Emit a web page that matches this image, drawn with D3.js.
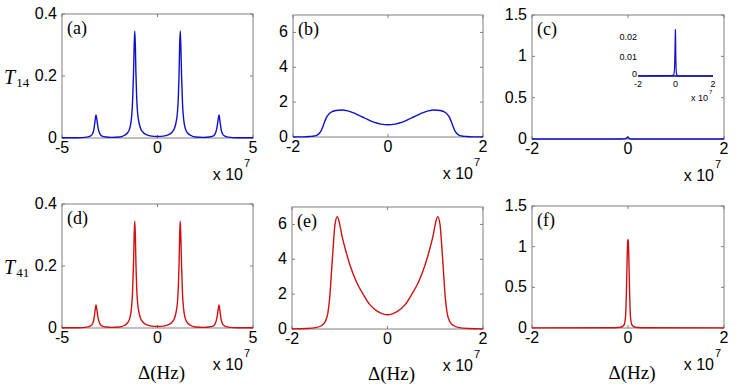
<!DOCTYPE html>
<html>
<head>
<meta charset="utf-8">
<script src="https://cdn.jsdelivr.net/npm/d3@7"></script>
<style>
  body { margin: 0; background: #fff; }
  text { font-family: Arial, "Liberation Sans", sans-serif; }
  .serif { font-family: "Times New Roman", "Liberation Serif", serif; }
</style>
</head>
<body>
<svg id="fig" width="747" height="388"></svg>
<script>

// Data (frequency detuning in units of 1e7 Hz)

// panels (a) and (d): four peaks
var xAD = [-5, -4.2, -3.7, -3.5, -3.4, -3.33, -3.27, -3.22, -3.18, -3.13, -3.07, -3.0, -2.9, -2.7, -2.4, -2.0,
           -1.75, -1.55, -1.45, -1.37, -1.31, -1.26, -1.22, -1.19, -1.16, -1.13, -1.09, -1.04, -0.97, -0.88,
           -0.75, -0.55, -0.3, 0, 0.3, 0.55, 0.75, 0.88, 0.97, 1.04, 1.09, 1.13, 1.16, 1.19, 1.22, 1.26, 1.31,
           1.37, 1.45, 1.55, 1.75, 2.0, 2.4, 2.7, 2.9, 3.0, 3.07, 3.13, 3.18, 3.22, 3.27, 3.33, 3.4, 3.5, 3.7, 4.2, 5];
var yA = [0.001, 0.001, 0.003, 0.007, 0.014, 0.028, 0.055, 0.074, 0.062, 0.04, 0.022, 0.012, 0.006, 0.003, 0.002, 0.003,
          0.008, 0.018, 0.032, 0.06, 0.11, 0.2, 0.3, 0.345, 0.3, 0.21, 0.13, 0.08, 0.05, 0.03,
          0.018, 0.01, 0.006, 0.005, 0.006, 0.01, 0.018, 0.03, 0.05, 0.08, 0.13, 0.21, 0.3, 0.345, 0.3, 0.2, 0.11,
          0.06, 0.032, 0.018, 0.008, 0.003, 0.002, 0.003, 0.006, 0.012, 0.022, 0.04, 0.062, 0.074, 0.055, 0.028, 0.014, 0.007, 0.003, 0.001, 0.001];
var yD = yA.slice();

// panel (b)
var xB = [-2, -1.8, -1.65, -1.55, -1.5, -1.45, -1.4, -1.35, -1.3, -1.25, -1.2, -1.1, -0.97, -0.85, -0.7, -0.5, -0.3, -0.15, 0,
          0.15, 0.3, 0.5, 0.7, 0.85, 0.97, 1.1, 1.2, 1.25, 1.3, 1.35, 1.4, 1.45, 1.5, 1.55, 1.65, 1.8, 2];
var yB = [0.005, 0.01, 0.03, 0.06, 0.1, 0.2, 0.4, 0.75, 1.1, 1.3, 1.42, 1.52, 1.55, 1.5, 1.35, 1.1, 0.85, 0.74, 0.7,
          0.74, 0.85, 1.1, 1.35, 1.5, 1.55, 1.52, 1.42, 1.3, 1.1, 0.75, 0.4, 0.2, 0.1, 0.06, 0.03, 0.01, 0.005];

// panel (e)
var xE = [-2, -1.7, -1.5, -1.38, -1.3, -1.25, -1.21, -1.17, -1.13, -1.1, -1.05, -1.0, -0.95, -0.89, -0.79, -0.65, -0.5, -0.37, -0.2, -0.1, 0,
          0.1, 0.2, 0.37, 0.5, 0.65, 0.79, 0.89, 0.95, 1.0, 1.05, 1.1, 1.13, 1.17, 1.21, 1.25, 1.3, 1.38, 1.5, 1.7, 2];
var yE = [0.01, 0.03, 0.08, 0.2, 0.45, 0.9, 1.8, 3.4, 5.0, 6.0, 6.45, 6.0, 5.3, 4.65, 3.7, 2.7, 1.95, 1.4, 1.0, 0.87, 0.82,
          0.87, 1.0, 1.4, 1.95, 2.7, 3.7, 4.65, 5.3, 6.0, 6.45, 6.0, 5.0, 3.4, 1.8, 0.9, 0.45, 0.2, 0.08, 0.03, 0.01];

// panel (c) and its inset
var xC = [-2, -0.15, -0.08, -0.05, -0.03, -0.015, -0.005, 0.005, 0.02, 0.04, 0.07, 0.15, 2];
var yC = [0, 0.0003, 0.001, 0.004, 0.012, 0.02, 0.024, 0.02, 0.008, 0.002, 0.0005, 0.0001, 0];

// panel (f)
var xF = [-2, -0.4, -0.15, -0.08, -0.05, -0.035, -0.02, -0.008, 0, 0.008, 0.02, 0.035, 0.05, 0.08, 0.15, 0.4, 2];
var yF = [0.001, 0.003, 0.01, 0.04, 0.15, 0.4, 0.8, 1.05, 1.09, 1.05, 0.8, 0.4, 0.15, 0.04, 0.01, 0.003, 0.001];

// tick labels
var xTicksWide = [-5, 0, 5];
var xTicksNarrow = [-2, 0, 2];
var yTicksAD = [0, 0.2, 0.4];
var yTicksBE = [0, 2, 4, 6];
var yTicksCF = [0, 0.5, 1, 1.5];
var insetYTicks = [0, 0.01, 0.02];

var blue = "#1010c8", red = "#d01010";

var panels = [
  {tag: "(a)", box: [62, 14, 253, 138], xd: [-5, 5], yd: [0, 0.4], xt: xTicksWide, yt: yTicksAD, x: xAD, y: yA, c: blue, ylab: "14"},
  {tag: "(b)", box: [293, 15, 483, 137], xd: [-2, 2], yd: [0, 7], xt: xTicksNarrow, yt: yTicksBE, x: xB, y: yB, c: blue},
  {tag: "(c)", box: [532, 15, 724, 139], xd: [-2, 2], yd: [0, 1.5], xt: xTicksNarrow, yt: yTicksCF, x: xC, y: yC, c: blue},
  {tag: "(d)", box: [62, 204, 253, 328], xd: [-5, 5], yd: [0, 0.4], xt: xTicksWide, yt: yTicksAD, x: xAD, y: yD, c: red, ylab: "41", xlab: true},
  {tag: "(e)", box: [292, 207, 483, 329], xd: [-2, 2], yd: [0, 7], xt: xTicksNarrow, yt: yTicksBE, x: xE, y: yE, c: red, xlab: true},
  {tag: "(f)", box: [532, 206, 724, 328], xd: [-2, 2], yd: [0, 1.5], xt: xTicksNarrow, yt: yTicksCF, x: xF, y: yF, c: red, xlab: true}
];

var svg = d3.select("#fig");
var frameColor = "#7f7f7f";
var tickFont = 16;

panels.forEach(function(p) {
  var l = p.box[0], t = p.box[1], r = p.box[2], b = p.box[3];
  var x = d3.scaleLinear().domain(p.xd).range([l, r]);
  var y = d3.scaleLinear().domain(p.yd).range([b, t]);
  var g = svg.append("g");

  // inward ticks on all four sides
  p.xt.forEach(function(v) {
    g.append("line").attr("x1", x(v)).attr("x2", x(v)).attr("y1", b).attr("y2", b - 3).attr("stroke", frameColor);
    g.append("line").attr("x1", x(v)).attr("x2", x(v)).attr("y1", t).attr("y2", t + 3).attr("stroke", frameColor);
  });
  p.yt.forEach(function(v) {
    g.append("line").attr("x1", l).attr("x2", l + 3).attr("y1", y(v)).attr("y2", y(v)).attr("stroke", frameColor);
    g.append("line").attr("x1", r).attr("x2", r - 3).attr("y1", y(v)).attr("y2", y(v)).attr("stroke", frameColor);
  });

  // frame
  g.append("rect")
    .attr("x", l).attr("y", t).attr("width", r - l).attr("height", b - t)
    .attr("fill", "none").attr("stroke", frameColor).attr("stroke-width", 1);

  // tick labels
  g.selectAll(".xt").data(p.xt).enter().append("text")
    .attr("x", function(d) { return x(d); })
    .attr("y", b + 15)
    .attr("text-anchor", "middle")
    .attr("font-size", tickFont)
    .text(function(d) { return d < 0 ? "-" + Math.abs(d) : String(d); });
  g.selectAll(".yt").data(p.yt).enter().append("text")
    .attr("x", l - 5)
    .attr("y", function(d) { return y(d) + 5; })
    .attr("text-anchor", "end")
    .attr("font-size", tickFont)
    .text(function(d) { return String(d); });

  // exponent label
  g.append("text").attr("x", r - 10).attr("y", b + 42).attr("text-anchor", "end").attr("font-size", tickFont).text("x 10");
  g.append("text").attr("x", r - 9).attr("y", b + 29).attr("font-size", 11).text("7");

  // curve
  var line = d3.line()
    .x(function(d) { return x(d[0]); })
    .y(function(d) { return y(d[1]); })
    .curve(d3.curveMonotoneX);
  g.append("path")
    .datum(d3.zip(p.x, p.y))
    .attr("d", line)
    .attr("fill", "none")
    .attr("stroke", p.c)
    .attr("stroke-width", 1.4);

  // panel tag
  g.append("text").attr("class", "serif")
    .attr("x", l + 5).attr("y", t + 20)
    .attr("font-size", 18)
    .text(p.tag);

  // y label
  if (p.ylab) {
    var yl = g.append("text").attr("class", "serif").attr("x", 4).attr("y", (t + b) / 2 + 8);
    yl.append("tspan").attr("font-size", 20).attr("font-style", "italic").text("T");
    yl.append("tspan").attr("font-size", 13).attr("dx", 1).attr("dy", 3).text(p.ylab);
  }

  // x label
  if (p.xlab) {
    g.append("text").attr("class", "serif")
      .attr("x", (l + r) / 2 + 4).attr("y", b + 51)
      .attr("text-anchor", "middle")
      .attr("font-size", 19)
      .text("\u0394(Hz)");
  }
});

// inset in panel (c)
var ix = d3.scaleLinear().domain([-2, 2]).range([638, 713]);
var iy = d3.scaleLinear().domain([0, 0.03]).range([76, 17.5]);
var inset = svg.append("g");
inset.append("line").attr("x1", ix(-2)).attr("x2", ix(2)).attr("y1", iy(0)).attr("y2", iy(0))
  .attr("stroke", "#00007a").attr("stroke-width", 1.5);
inset.append("path")
  .datum(d3.zip(xC, yC))
  .attr("d", d3.line().x(function(d) { return ix(d[0]); }).y(function(d) { return iy(d[1]); }))
  .attr("fill", "none").attr("stroke", blue).attr("stroke-width", 1.2);
inset.selectAll(".iyt").data(insetYTicks).enter().append("text")
  .attr("x", 637).attr("y", function(d) { return iy(d) + (d === 0 ? 1 : 3); })
  .attr("text-anchor", "end").attr("font-size", 9)
  .text(function(d) { return String(d); });
inset.selectAll(".ixt").data(xTicksNarrow).enter().append("text")
  .attr("x", function(d) { return ix(d); }).attr("y", iy(0) + 11)
  .attr("text-anchor", "middle").attr("font-size", 9)
  .text(function(d) { return d < 0 ? "-" + Math.abs(d) : String(d); });
inset.append("text").attr("x", 708).attr("y", 101).attr("text-anchor", "end").attr("font-size", 9).text("x 10");
inset.append("text").attr("x", 709).attr("y", 94).attr("font-size", 6).text("7");

</script>
</body>
</html>
